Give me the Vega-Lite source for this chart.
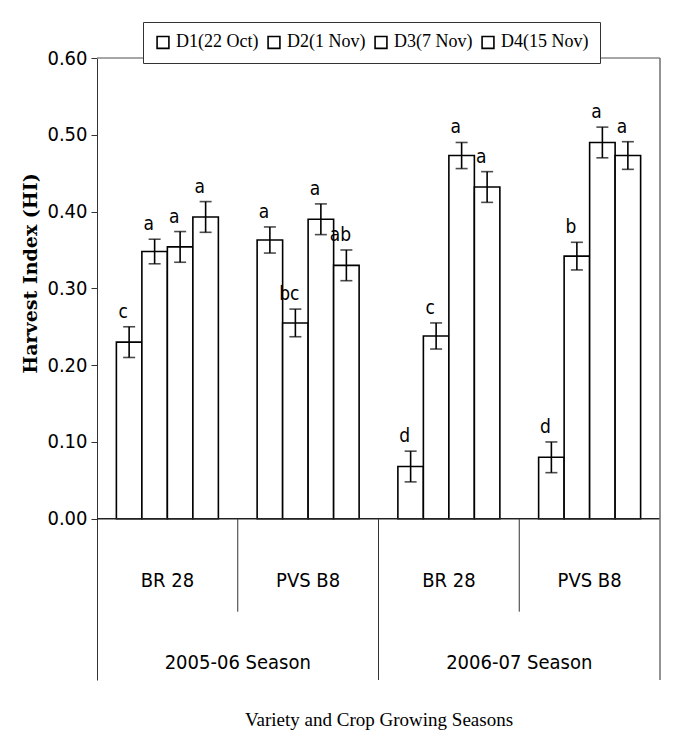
{
  "$schema": "https://vega.github.io/schema/vega-lite/v6.json",
  "width": 563,
  "height": 622,
  "autosize": "none",
  "padding": {"left": 97, "top": 58, "right": 17, "bottom": 68},
  "background": "white",
  "config": {
    "view": {"stroke": null},
    "axis": {"labelFont": "'Liberation Sans Narrow', 'DejaVu Sans Condensed', 'Liberation Sans', sans-serif", "titleFont": "Liberation Serif"},
    "text": {"font": "'Liberation Sans Narrow', 'DejaVu Sans Condensed', 'Liberation Sans', sans-serif"}
  },
  "datasets": {
    "bars": [
      {"grp": "2005-06 BR 28", "date": "D1(22 Oct)", "hi": 0.230, "lo": 0.210, "up": 0.250, "letter": "c"},
      {"grp": "2005-06 BR 28", "date": "D2(1 Nov)", "hi": 0.348, "lo": 0.332, "up": 0.364, "letter": "a"},
      {"grp": "2005-06 BR 28", "date": "D3(7 Nov)", "hi": 0.354, "lo": 0.334, "up": 0.374, "letter": "a"},
      {"grp": "2005-06 BR 28", "date": "D4(15 Nov)", "hi": 0.393, "lo": 0.373, "up": 0.413, "letter": "a"},
      {"grp": "2005-06 PVS B8", "date": "D1(22 Oct)", "hi": 0.363, "lo": 0.346, "up": 0.380, "letter": "a"},
      {"grp": "2005-06 PVS B8", "date": "D2(1 Nov)", "hi": 0.255, "lo": 0.237, "up": 0.273, "letter": "bc"},
      {"grp": "2005-06 PVS B8", "date": "D3(7 Nov)", "hi": 0.390, "lo": 0.370, "up": 0.410, "letter": "a"},
      {"grp": "2005-06 PVS B8", "date": "D4(15 Nov)", "hi": 0.330, "lo": 0.310, "up": 0.350, "letter": "ab"},
      {"grp": "2006-07 BR 28", "date": "D1(22 Oct)", "hi": 0.068, "lo": 0.048, "up": 0.088, "letter": "d"},
      {"grp": "2006-07 BR 28", "date": "D2(1 Nov)", "hi": 0.238, "lo": 0.221, "up": 0.255, "letter": "c"},
      {"grp": "2006-07 BR 28", "date": "D3(7 Nov)", "hi": 0.473, "lo": 0.456, "up": 0.490, "letter": "a"},
      {"grp": "2006-07 BR 28", "date": "D4(15 Nov)", "hi": 0.432, "lo": 0.412, "up": 0.452, "letter": "a"},
      {"grp": "2006-07 PVS B8", "date": "D1(22 Oct)", "hi": 0.080, "lo": 0.060, "up": 0.100, "letter": "d"},
      {"grp": "2006-07 PVS B8", "date": "D2(1 Nov)", "hi": 0.342, "lo": 0.324, "up": 0.360, "letter": "b"},
      {"grp": "2006-07 PVS B8", "date": "D3(7 Nov)", "hi": 0.490, "lo": 0.470, "up": 0.510, "letter": "a"},
      {"grp": "2006-07 PVS B8", "date": "D4(15 Nov)", "hi": 0.473, "lo": 0.455, "up": 0.491, "letter": "a"}
    ],
    "groups": [
      {"grp": "2005-06 BR 28", "variety": "BR 28", "first": true},
      {"grp": "2005-06 PVS B8", "variety": "PVS B8", "first": false},
      {"grp": "2006-07 BR 28", "variety": "BR 28", "first": true},
      {"grp": "2006-07 PVS B8", "variety": "PVS B8", "first": false}
    ],
    "seasons": [
      {"grp": "2005-06 BR 28", "season": "2005-06 Season"},
      {"grp": "2006-07 BR 28", "season": "2006-07 Season"}
    ]
  },
  "encoding": {
    "x": {
      "field": "grp",
      "type": "nominal",
      "sort": null,
      "scale": {"domain": ["2005-06 BR 28", "2005-06 PVS B8", "2006-07 BR 28", "2006-07 PVS B8"], "paddingInner": 0, "paddingOuter": 0},
      "axis": {"labels": false, "ticks": false, "domain": false, "title": "Variety and Crop Growing Seasons", "titleFont": "Liberation Serif", "titleFontSize": 19, "titleFontWeight": "normal", "titleColor": "black", "titlePadding": 30}
    }
  },
  "layer": [
    {
      "data": {"name": "bars"},
      "mark": {"type": "bar", "stroke": "black", "strokeWidth": 1.6},
      "encoding": {
        "xOffset": {"field": "date", "type": "nominal", "scale": {"paddingInner": 0, "paddingOuter": 0.76}},
        "y": {
          "field": "hi", "type": "quantitative",
          "scale": {"domain": [-0.21, 0.6], "nice": false, "zero": false},
          "axis": {"values": [0, 0.1, 0.2, 0.3, 0.4, 0.5, 0.6], "format": ".2f", "grid": false, "labelFontSize": 20, "labelColor": "black", "labelPadding": 4, "tickSize": 6, "tickColor": "#333", "domainColor": "#333", "title": "Harvest Index (HI)", "titleFont": "DejaVu Serif", "titleFontSize": 19, "titleFontWeight": "bold", "titleColor": "black", "titleX": -67, "titleY": 215, "titleAngle": -90, "titleAlign": "center", "titleBaseline": "middle"}
        },
        "fill": {
          "field": "date", "type": "nominal",
          "scale": {"range": ["white", "white", "white", "white"]},
          "legend": {"orient": "none", "legendX": 46, "legendY": -36, "direction": "horizontal", "columns": 4, "title": null, "fillColor": "white", "strokeColor": "#333", "padding": 11, "symbolType": "square", "symbolSize": 140, "symbolStrokeColor": "black", "symbolStrokeWidth": 1.6, "symbolFillColor": "white", "labelFont": "Liberation Serif", "labelFontSize": 18, "labelColor": "black", "labelOffset": 4, "columnPadding": 5}
        }
      }
    },
    {
      "data": {"name": "bars"},
      "mark": {"type": "rule", "color": "black", "strokeWidth": 1.6},
      "encoding": {
        "xOffset": {"field": "date", "type": "nominal"},
        "y": {"field": "lo", "type": "quantitative"},
        "y2": {"field": "up"}
      }
    },
    {
      "data": {"name": "bars"},
      "mark": {"type": "tick", "color": "black", "thickness": 1.6, "size": 12},
      "encoding": {
        "xOffset": {"field": "date", "type": "nominal"},
        "y": {"field": "lo", "type": "quantitative"}
      }
    },
    {
      "data": {"name": "bars"},
      "mark": {"type": "tick", "color": "black", "thickness": 1.6, "size": 12},
      "encoding": {
        "xOffset": {"field": "date", "type": "nominal"},
        "y": {"field": "up", "type": "quantitative"}
      }
    },
    {
      "data": {"name": "bars"},
      "mark": {"type": "text", "baseline": "bottom", "align": "center", "dx": -6, "dy": -5, "fontSize": 19, "color": "black"},
      "encoding": {
        "xOffset": {"field": "date", "type": "nominal"},
        "y": {"field": "up", "type": "quantitative"},
        "text": {"field": "letter"}
      }
    },
    {
      "data": {"values": [{}]},
      "mark": {"type": "rule", "color": "#222", "strokeWidth": 1.6},
      "encoding": {"x": null, "y": {"datum": 0}}
    },
    {
      "data": {"values": [{}]},
      "mark": {"type": "rule", "color": "#888", "strokeWidth": 1.6},
      "encoding": {"x": null, "y": {"datum": 0.6}}
    },
    {
      "data": {"name": "groups"},
      "transform": [{"filter": "!datum.first"}],
      "mark": {"type": "rule", "color": "#333", "strokeWidth": 1},
      "encoding": {"x": {"field": "grp", "type": "nominal", "bandPosition": 0}, "y": {"datum": 0}, "y2": {"datum": -0.121}}
    },
    {
      "data": {"name": "seasons"},
      "transform": [{"filter": "datum.season == '2006-07 Season'"}],
      "mark": {"type": "rule", "color": "#333", "strokeWidth": 1},
      "encoding": {"x": {"field": "grp", "type": "nominal", "bandPosition": 0}, "y": {"datum": 0}, "y2": {"datum": -0.21}}
    },
    {
      "data": {"name": "seasons"},
      "transform": [{"filter": "datum.season == '2006-07 Season'"}],
      "mark": {"type": "rule", "color": "#777", "strokeWidth": 1.6},
      "encoding": {"x": {"value": 563}, "y": {"datum": 0.6}, "y2": {"datum": -0.21}}
    },
    {
      "data": {"name": "groups"},
      "mark": {"type": "text", "fontSize": 20, "baseline": "middle", "color": "black"},
      "encoding": {"x": {"field": "grp", "type": "nominal"}, "y": {"datum": -0.081}, "text": {"field": "variety"}}
    },
    {
      "data": {"name": "seasons"},
      "mark": {"type": "text", "fontSize": 20, "baseline": "middle", "color": "black"},
      "encoding": {"x": {"field": "grp", "type": "nominal", "bandPosition": 1}, "y": {"datum": -0.1875}, "text": {"field": "season"}}
    }
  ]
}
